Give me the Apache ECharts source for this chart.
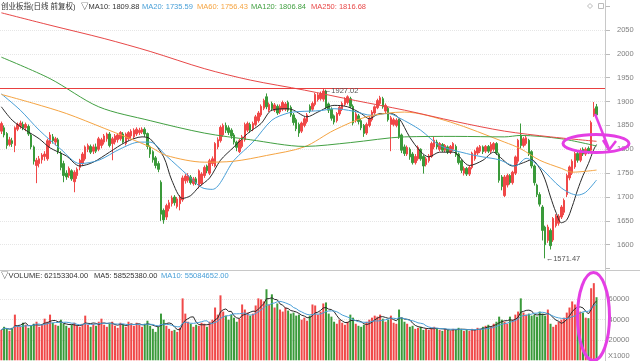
<!DOCTYPE html>
<html><head><meta charset="utf-8">
<script src="https://cdn.jsdelivr.net/npm/echarts@6/dist/echarts.min.js"></script>
<style>html,body{margin:0;padding:0;background:#fff}#c{width:640px;height:361px}</style>
</head><body><div id="c"></div>
<script>
// ---- DATA ----
// rows: [open, close, low, high]
const ohlc = [
[1838,1854,1832,1858],[1845,1830,1825,1850],[1833,1808,1801,1836],[1810,1820,1806,1826],[1818,1812,1805,1824],
[1808,1845,1794,1848],[1842,1852,1838,1856],[1848,1855,1843,1860],[1852,1845,1840,1858],[1845,1852,1838,1856],
[1848,1832,1828,1852],[1830,1805,1800,1834],[1805,1775,1768,1808],[1766,1777,1729,1782],[1770,1780,1762,1786],
[1778,1788,1770,1792],[1785,1790,1776,1796],[1780,1818,1776,1822],[1812,1830,1805,1836],[1826,1818,1812,1832],
[1815,1822,1808,1826],[1820,1795,1790,1824],[1792,1762,1756,1796],[1770,1745,1731,1776],[1750,1742,1736,1756],
[1745,1760,1740,1764],[1755,1738,1734,1758],[1732,1752,1710,1756],[1745,1758,1738,1762],[1762,1777,1756,1780],
[1770,1790,1765,1794],[1780,1805,1776,1808],[1800,1808,1794,1812],[1806,1794,1790,1810],[1796,1805,1790,1810],
[1805,1796,1792,1812],[1800,1822,1796,1826],[1808,1820,1802,1824],[1815,1828,1810,1832],[1822,1832,1816,1835],
[1832,1808,1804,1836],[1812,1822,1777,1826],[1815,1828,1810,1832],[1820,1830,1814,1834],[1822,1835,1818,1838],
[1832,1815,1812,1836],[1812,1832,1808,1835],[1822,1835,1818,1838],[1828,1838,1822,1842],[1826,1840,1822,1844],
[1832,1842,1828,1846],[1835,1840,1830,1845],[1836,1842,1832,1846],[1842,1832,1826,1846],[1833,1806,1800,1835],
[1805,1790,1782,1808],[1795,1778,1772,1798],[1782,1766,1760,1786],[1770,1758,1752,1775],[1731,1664,1650,1735],
[1672,1652,1644,1676],[1658,1682,1652,1686],[1676,1688,1670,1694],[1686,1698,1680,1703],[1700,1688,1682,1704],
[1680,1696,1676,1700],[1686,1700,1672,1704],[1694,1740,1690,1745],[1734,1744,1728,1748],[1735,1745,1730,1750],
[1742,1730,1726,1746],[1728,1738,1724,1742],[1738,1730,1725,1742],[1722,1755,1718,1758],[1728,1748,1724,1752],
[1745,1762,1740,1766],[1765,1755,1750,1768],[1750,1776,1746,1780],[1770,1780,1765,1785],[1765,1812,1762,1815],
[1805,1820,1800,1825],[1818,1846,1814,1850],[1830,1850,1826,1854],[1850,1840,1834,1856],[1845,1835,1830,1850],
[1840,1828,1822,1844],[1830,1815,1810,1834],[1815,1804,1796,1818],[1795,1818,1792,1822],[1806,1826,1802,1830],
[1820,1852,1816,1856],[1840,1854,1836,1858],[1852,1840,1835,1856],[1843,1854,1838,1858],[1852,1868,1848,1872],
[1860,1876,1856,1880],[1872,1890,1868,1894],[1886,1902,1882,1906],[1910,1889,1884,1917],[1882,1894,1878,1898],
[1896,1885,1880,1900],[1882,1893,1878,1897],[1890,1876,1872,1894],[1878,1890,1874,1894],[1884,1898,1880,1902],
[1884,1895,1880,1899],[1898,1882,1878,1902],[1888,1872,1868,1892],[1872,1856,1850,1876],[1862,1843,1838,1866],
[1852,1834,1826,1856],[1838,1855,1834,1858],[1850,1864,1846,1868],[1858,1872,1854,1876],[1890,1880,1876,1894],
[1884,1896,1880,1900],[1894,1915,1890,1918],[1904,1914,1900,1918],[1906,1917,1902,1921],[1905,1922,1900,1927.02],
[1922,1888,1884,1925],[1895,1882,1876,1898],[1884,1865,1860,1888],[1870,1857,1852,1873],[1860,1875,1856,1878],
[1874,1888,1870,1892],[1884,1896,1880,1900],[1894,1905,1890,1909],[1898,1910,1894,1913],[1906,1890,1886,1910],
[1890,1855,1850,1894],[1860,1874,1856,1878],[1870,1858,1852,1874],[1860,1845,1840,1864],[1850,1833,1826,1853],
[1834,1852,1830,1856],[1850,1865,1846,1869],[1862,1878,1858,1882],[1876,1889,1872,1892],[1887,1902,1884,1906],
[1896,1908,1892,1912],[1906,1889,1885,1910],[1880,1892,1876,1896],[1886,1862,1858,1889],[1852,1866,1796,1870],
[1852,1862,1848,1866],[1850,1861,1846,1865],[1861,1826,1822,1864],[1830,1798,1792,1833],[1805,1791,1786,1810],
[1790,1804,1786,1808],[1800,1784,1778,1804],[1790,1772,1768,1794],[1772,1785,1768,1790],[1780,1804,1776,1808],
[1800,1780,1776,1802],[1785,1765,1749,1788],[1768,1780,1764,1784],[1776,1786,1772,1790],[1785,1812,1782,1816],
[1805,1819,1800,1826],[1815,1805,1800,1820],[1800,1812,1796,1815],[1810,1798,1794,1813],[1798,1808,1794,1811],
[1805,1794,1790,1808],[1794,1806,1790,1809],[1800,1812,1796,1815],[1806,1788,1784,1810],[1790,1772,1768,1793],
[1776,1756,1750,1779],[1750,1760,1745,1764],[1760,1748,1744,1763],[1748,1762,1744,1766],[1762,1792,1758,1795],
[1780,1796,1776,1799],[1792,1803,1788,1806],[1796,1806,1792,1809],[1805,1795,1790,1808],[1796,1806,1792,1809],
[1806,1796,1792,1809],[1796,1810,1792,1815],[1800,1812,1796,1815],[1812,1792,1788,1815],[1790,1735,1730,1793],
[1742,1722,1714,1746],[1703,1742,1700,1746],[1725,1745,1720,1749],[1745,1730,1726,1748],[1730,1752,1726,1755],
[1750,1784,1746,1787],[1775,1819,1770,1822],[1830,1808,1802,1854],[1808,1822,1804,1826],[1812,1824,1808,1828],
[1819,1790,1786,1822],[1795,1765,1760,1798],[1765,1730,1724,1768],[1725,1705,1700,1728],[1705,1685,1680,1710],
[1679,1630,1609,1683],[1637,1600,1571.47,1640],[1609,1637,1604,1642],[1630,1598,1590,1634],[1610,1655,1606,1658],
[1640,1660,1636,1664],[1645,1660,1640,1664],[1658,1679,1654,1683],[1668,1693,1662,1697],[1705,1745,1700,1749],
[1740,1763,1735,1766],[1750,1775,1746,1779],[1763,1791,1759,1795],[1791,1777,1772,1796],[1777,1798,1773,1802],
[1800,1790,1786,1804],[1790,1800,1786,1804],[1802,1795,1790,1806],[1798,1856,1796,1860],[1871,1885,1868,1899],
[1889,1872,1868,1895]
];
// volume, x1000
const volume = [
30,33,31,29,32,45,34,33,37,35,
32,34,36,38,33,35,41,38,45,37,
35,34,40,36,34,32,35,37,34,33,
36,44,35,33,36,34,38,41,35,33,
36,38,34,32,37,35,33,38,36,34,
37,35,33,36,39,34,31,28,33,46,
40,34,31,29,30,28,32,61,46,38,
36,33,35,34,37,36,33,38,40,52,
45,64,48,44,40,45,42,38,41,55,
50,47,44,46,54,61,60,58,70,55,
65,52,56,50,48,52,49,46,47,44,
45,40,42,39,44,55,54,45,48,56,
57,46,43,38,36,40,37,35,38,45,
42,36,34,33,35,38,40,42,44,43,
45,41,38,40,44,37,36,50,42,38,
36,33,34,31,32,33,30,31,30,32,
33,31,30,29,31,30,29,31,30,32,
31,29,30,29,31,30,32,31,33,34,
35,33,36,38,43,40,38,36,43,40,
45,48,61,47,45,46,44,45,43,48,
46,44,50,36,33,35,38,40,42,47,
52,58,55,50,48,47,42,41.5,71,76,
62.153
].map(v => v * 1000);
// moving-average lines: [dayIndex, value]
const ma10 = [[0,1889],[4,1861],[9,1840],[14,1822],[18,1803],[24,1786],[29,1765],[34,1773],[40,1794],[46,1815],[52,1826],[55,1822],[60,1784],[63,1735],[67,1697],[70,1703],[73,1721],[77,1740],[81,1777],[86,1805],[91,1833],[96,1854],[100,1882],[106,1885],[108,1882],[113,1868],[117,1878],[123,1892],[128,1889],[133,1875],[136,1864],[140,1875],[144,1875],[147,1865],[151,1825],[155,1795],[158,1784],[162,1794],[167,1794],[173,1766],[178,1777],[182,1794],[184,1785],[189,1765],[193,1772],[196,1778],[199,1760],[201,1736],[203,1700],[205,1668],[207,1646],[209,1652],[211,1680],[213,1715],[215,1745],[217,1770],[219,1800],[220,1809.88]];
const ma20 = [[0,1916],[7,1882],[14,1840],[22,1800],[29,1770],[36,1777],[44,1801],[51,1815],[55,1815],[61,1786],[69,1745],[74,1720],[78,1716],[86,1777],[93,1815],[100,1861],[106,1876],[110,1879],[118,1881],[123,1885],[130,1880],[137,1871],[143,1875],[147,1866],[155,1840],[162,1808],[172,1791],[178,1784],[184,1778],[190,1765],[194,1781],[199,1763],[207,1719],[213,1704],[216,1710],[220,1735.59]];
const ma60 = [[0,1915],[12,1896],[24,1875],[38,1844],[55,1805],[61,1787],[75,1773],[86,1775],[98,1787],[112,1805],[123,1840],[135,1868],[149,1878],[166,1857],[186,1815],[192,1801],[199,1777],[207,1760],[211,1752],[220,1756.43]];
const ma120 = [[0,1993],[18,1948],[36,1889],[55,1860],[75,1834],[92,1820],[112,1806],[129,1814],[149,1826],[168,1827],[186,1826],[192,1829],[207,1822],[220,1806.84]];
const ma250 = [[0,2086],[18,2060],[38,2032],[55,2005],[75,1969],[92,1945],[112,1924],[131,1902],[149,1882],[168,1858],[186,1838],[203,1826],[220,1816.68]];
const maNames = ['MA10','MA20','MA60','MA120','MA250'];
const maLast = ['1809.88','1735.59','1756.43','1806.84','1816.68'];
const volHeader = ['62153304.00','58525380.00','55084652.00'];
const priceTicks = [1600,1650,1700,1750,1800,1850,1900,1950,2000,2050];
const volTicks = [20000,40000,60000];
const title = '创业板指(日线 前复权)';

// ---- CHART ----
const UP = '#f04848', DOWN = '#3a9a3a';
const C = {ma10:'#2a2a2a', ma20:'#4aa0d8', ma60:'#f5a442', ma120:'#42a042', ma250:'#e84848'};
const FONT = "'Liberation Sans','Noto Sans CJK SC',sans-serif";
const cats = Array.from({length: ohlc.length + 3}, (_, i) => 'd' + i);
function avg(arr, n){return arr.map((_, i)=>{const s=Math.max(0,i-n+1);let t=0;for(let k=s;k<=i;k++)t+=arr[k];return t/(i-s+1);});}
let hiIdx=0, loIdx=0;
ohlc.forEach((r,i)=>{ if(r[3]>ohlc[hiIdx][3]) hiIdx=i; if(r[2]<ohlc[loIdx][2]) loIdx=i; });
const volItems = volume.map((v,i)=>({value:v, itemStyle:{color: ohlc[i][1]>=ohlc[i][0]?UP:DOWN}}));

function maLine(data, color){return {type:'line', data, xAxisIndex:0, yAxisIndex:0, smooth:0.3, showSymbol:false, symbol:'none', lineStyle:{color, width:1}, silent:true, z:3};}
const txt = (x,y,t,fill,extra)=>Object.assign({type:'text', x, y, silent:true, z:50, style:{text:t, fill, font:'7.5px '+FONT, textVerticalAlign:'middle'}}, extra||{});

const chart = echarts.init(document.getElementById('c'));
chart.setOption({
  animation:false,
  backgroundColor:'#fff',
  grid:[{left:0,right:34,top:6.1,height:262.5},{left:0,right:34,top:279.1,height:81.2}],
  xAxis:[
    {type:'category', gridIndex:0, data:cats, boundaryGap:true, axisLine:{show:false}, axisTick:{show:false}, axisLabel:{show:false}, splitLine:{show:false}},
    {type:'category', gridIndex:1, data:cats, boundaryGap:true, axisLine:{show:false}, axisTick:{show:false}, axisLabel:{show:false}, splitLine:{show:false}}
  ],
  yAxis:[
    {type:'value', gridIndex:0, position:'right', min:1550, max:2100, interval:50, scale:true,
     axisLine:{show:false}, axisTick:{show:true, length:4, lineStyle:{color:'#bbb'}},
     axisLabel:{margin:11, color:'#808080', fontSize:7.5, fontFamily:FONT, formatter:v=>priceTicks.includes(v)?String(v):''},
     splitLine:{show:true, showMinLine:false, showMaxLine:false, lineStyle:{color:'#e6e6e6', type:'dotted'}}},
    {type:'value', gridIndex:1, position:'right', min:0, max:80000, interval:20000,
     axisLine:{show:false}, axisTick:{show:false},
     axisLabel:{margin:2.5, color:'#808080', fontSize:7.5, fontFamily:FONT, formatter:v=>volTicks.includes(v)?String(v):''},
     splitLine:{show:true, showMinLine:false, showMaxLine:false, lineStyle:{color:'#e6e6e6', type:'dotted'}}}
  ],
  series:[
    {type:'candlestick', xAxisIndex:0, yAxisIndex:0, data:ohlc, barWidth:2, z:2,
     itemStyle:{color:UP, color0:DOWN, borderColor:UP, borderColor0:DOWN, borderWidth:1},
     markLine:{silent:true, symbol:['none','none'], label:{show:false}, lineStyle:{color:'#e84040', width:1, type:'solid'}, data:[{yAxis:ohlc[hiIdx][3]}]},
     markPoint:{silent:true, symbol:'circle', symbolSize:1, itemStyle:{color:'rgba(0,0,0,0)'},
       label:{show:true, position:'right', distance:0, color:'#555', fontSize:7.5, fontFamily:FONT, formatter:p=>'←'+p.value.toFixed(2)},
       data:[{coord:[hiIdx, ohlc[hiIdx][3]], value:ohlc[hiIdx][3], label:{offset:[0,2]}},{coord:[loIdx, ohlc[loIdx][2]], value:ohlc[loIdx][2], label:{offset:[0,1]}}]}},
    maLine(ma10, C.ma10), maLine(ma20, C.ma20), maLine(ma60, C.ma60), maLine(ma120, C.ma120), maLine(ma250, C.ma250),
    {type:'bar', xAxisIndex:1, yAxisIndex:1, data:volItems, barWidth:2, silent:true},
    {type:'line', xAxisIndex:1, yAxisIndex:1, data:avg(volume,5), showSymbol:false, symbol:'none', lineStyle:{color:'#2a2a2a', width:1}, silent:true, z:3},
    {type:'line', xAxisIndex:1, yAxisIndex:1, data:avg(volume,10), showSymbol:false, symbol:'none', lineStyle:{color:C.ma20, width:1}, silent:true, z:3}
  ],
  graphic:{elements:[
    {type:'line', silent:true, z:10, shape:{x1:0,y1:270.5,x2:640,y2:270.5}, style:{stroke:'#c8c8c8', lineWidth:1}},
    {type:'line', silent:true, z:10, shape:{x1:605.5,y1:0,x2:605.5,y2:361}, style:{stroke:'#c8c8c8', lineWidth:1}},
    txt(1, 6.5, title, '#333'),
    txt(81, 6.5, '▽'+maNames[0]+': '+maLast[0], '#333'),
    txt(142, 6.5, maNames[1]+': '+maLast[1], C.ma20),
    txt(197, 6.5, maNames[2]+': '+maLast[2], C.ma60),
    txt(251, 6.5, maNames[3]+': '+maLast[3], C.ma120),
    txt(311, 6.5, maNames[4]+': '+maLast[4], C.ma250),
    txt(1, 276, '▽VOLUME: '+volHeader[0], '#333'),
    txt(94, 276, 'MA5: '+volHeader[1], '#333'),
    txt(161, 276, 'MA10: '+volHeader[2], C.ma20),
    txt(608, 355.5, 'X1000', '#808080'),
    {type:'polygon', silent:true, z:10, shape:{points:[[590,3.5],[592.5,6],[590,8.5],[587.5,6]]}, style:{fill:'none', stroke:'#bbb', lineWidth:1}},
    {type:'rect', silent:true, z:10, shape:{x:598.5,y:3.5,width:5,height:5}, style:{fill:'none', stroke:'#bbb', lineWidth:1}},
    {type:'ellipse', silent:true, z:100, shape:{cx:596,cy:143.5,rx:33,ry:9}, style:{fill:'none', stroke:'#e43ee4', lineWidth:3}},
    {type:'ellipse', silent:true, z:100, shape:{cx:593.5,cy:316.5,rx:16,ry:44}, style:{fill:'none', stroke:'#e43ee4', lineWidth:3}},
    {type:'polyline', silent:true, z:100, shape:{points:[[595,114],[609,149]]}, style:{fill:'none', stroke:'#e43ee4', lineWidth:2.5}},
    {type:'polyline', silent:true, z:100, shape:{points:[[603,140],[609,150],[616,141]]}, style:{fill:'none', stroke:'#e43ee4', lineWidth:2.5}}
  ]}
});
</script>
</body></html>
